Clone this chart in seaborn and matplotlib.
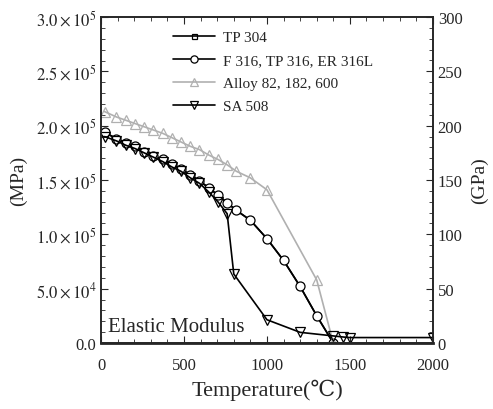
"""Elastic modulus vs temperature"""

import numpy as np
import pandas as pd
import matplotlib

matplotlib.use("Agg")
import matplotlib.pyplot as plt
from matplotlib.ticker import FuncFormatter, MultipleLocator
import seaborn as sns

# temperatures (C), ASME points converted from F
t_base = [21, 93, 149, 204, 260, 316, 371, 427, 482, 538, 593, 649, 704, 760, 816]

# F 316 / TP 316 / ER 316L and TP 304 (same curve), MPa
t_316 = t_base + [900, 1000, 1100, 1200, 1300, 1400]
e_316 = [1.94e5, 1.88e5, 1.84e5, 1.81e5, 1.76e5, 1.72e5, 1.69e5, 1.65e5, 1.60e5,
         1.55e5, 1.49e5, 1.43e5, 1.36e5, 1.29e5, 1.22e5, 1.13e5, 0.96e5, 0.76e5,
         0.52e5, 0.25e5, 0.0]
t_304 = t_316
e_304 = e_316

# Alloy 82, 182, 600
t_alloy = t_base + [900, 1000, 1300, 1400]
e_alloy = [2.13e5, 2.08e5, 2.05e5, 2.02e5, 1.99e5, 1.96e5, 1.93e5, 1.89e5, 1.85e5,
           1.81e5, 1.78e5, 1.73e5, 1.69e5, 1.64e5, 1.58e5, 1.52e5, 1.41e5, 0.58e5,
           0.0]

# SA 508
t_sa = t_base[:14] + [800, 1000, 1200, 1400, 1460, 1500, 2000]
e_sa = [1.90e5, 1.86e5, 1.82e5, 1.79e5, 1.75e5, 1.71e5, 1.67e5, 1.62e5, 1.58e5,
        1.52e5, 1.47e5, 1.39e5, 1.30e5, 1.19e5, 0.635e5, 0.214e5, 0.098e5,
        0.065e5, 0.055e5, 0.05e5, 0.05e5]

sns.set_theme(style="ticks")
plt.rcParams["font.family"] = ["Liberation Serif", "DejaVu Serif", "Noto Sans CJK KR"]
plt.rcParams["mathtext.fontset"] = "stix"

fig = plt.figure(figsize=(4.93, 4.10), dpi=100)
ax = fig.add_axes([0.205, 0.161, 0.673, 0.795])

gray = "#b0b0b0"
series = [
    ("TP 304", t_304, e_304, "s", "black", 4.5),
    ("F 316, TP 316, ER 316L", t_316, e_316, "o", "black", 6.5),
    ("Alloy 82, 182, 600", t_alloy, e_alloy, "^", gray, 7),
    ("SA 508", t_sa, e_sa, "v", "black", 7),
]
for label, t, e, mk, col, size in series:
    df = pd.DataFrame({"T": t, "E": e})
    sns.lineplot(data=df, x="T", y="E", ax=ax, color=col, marker=mk, ms=size,
                 mfc="white" if mk == "o" else "none", mec=col, mew=0.9, lw=1.2,
                 label=label)

ax.set_xlim(0, 2000)
ax.set_ylim(0, 3.0e5)
ax.xaxis.set_major_locator(MultipleLocator(500))
ax.xaxis.set_minor_locator(MultipleLocator(100))
ax.yaxis.set_major_locator(MultipleLocator(5e4))
ax.yaxis.set_minor_locator(MultipleLocator(1e4))


def sci(v, pos):
    if v <= 0:
        return "0.0"
    exp = int(np.floor(np.log10(v)))
    return r"$%.1f\times10^{%d}$" % (v / 10 ** exp, exp)


ax.yaxis.set_major_formatter(FuncFormatter(sci))
ax.tick_params(which="both", direction="in", top=True, labelsize=12)
ax.tick_params(which="major", length=5, width=0.8)
ax.tick_params(which="minor", length=3, width=0.6)
ax.tick_params(axis="x", pad=10)
for s in ax.spines.values():
    s.set_linewidth(1.2)
ax.spines["bottom"].set_linewidth(2)

ax.set_xlabel("Temperature(℃)", fontsize=16, labelpad=4)
ax.set_ylabel("(MPa)", fontsize=14, labelpad=6)

ax2 = ax.twinx()
ax2.set_ylim(0, 300)
ax2.yaxis.set_major_locator(MultipleLocator(50))
ax2.yaxis.set_minor_locator(MultipleLocator(10))
ax2.tick_params(which="both", direction="in", labelsize=12)
ax2.tick_params(which="major", length=5, width=0.8)
ax2.tick_params(which="minor", length=3, width=0.6)
ax2.set_ylabel("(GPa)", fontsize=14, rotation=90, labelpad=6)
for s in ax2.spines.values():
    s.set_linewidth(1.2)

ax.text(0.02, 0.02, "Elastic Modulus", transform=ax.transAxes, fontsize=15,
        ha="left", va="bottom")

leg = ax.legend(loc="upper left", bbox_to_anchor=(0.197, 0.977), frameon=False,
                fontsize=11, handlelength=2.8, handletextpad=0.5,
                labelspacing=0.6, borderaxespad=0, markerscale=0.8)

fig.savefig("out.png", dpi=100)
plt.close(fig)
